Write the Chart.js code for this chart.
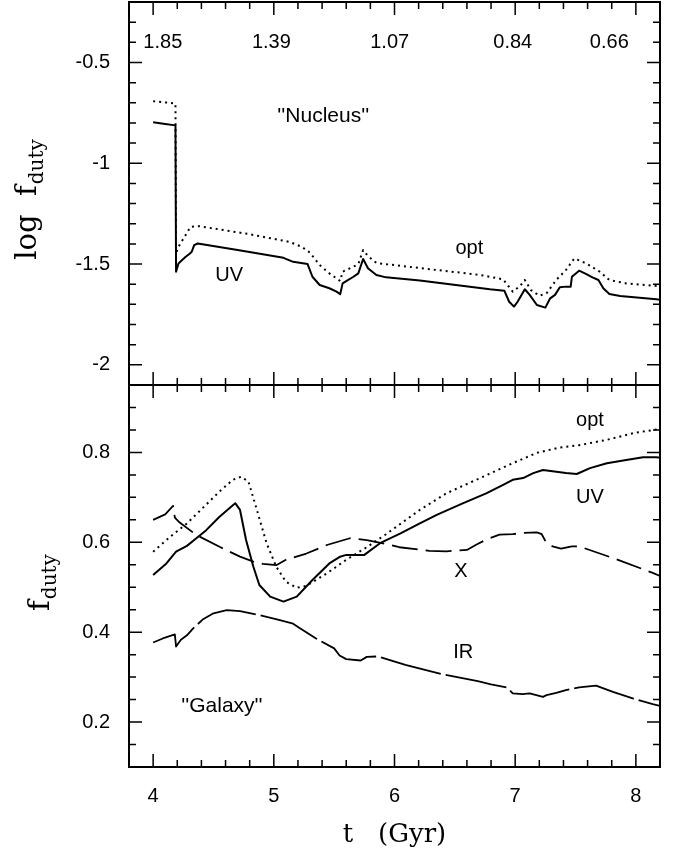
<!DOCTYPE html>
<html>
<head>
<meta charset="utf-8">
<script src="https://cdn.jsdelivr.net/npm/chart.js@4/dist/chart.umd.min.js"></script>
<style>
    html, body { margin: 0; padding: 0; background: #fff; }
    #wrap { position: relative; width: 677px; height: 849px; }
    #wrap canvas { position: absolute; left: 0; top: 0; }
</style>
</head>
<body>
<div id="wrap">
    <canvas id="galaxy-chart" width="677" height="849"></canvas>
    <canvas id="nucleus-chart" width="677" height="849"></canvas>
</div>
<script>
// duty cycle vs cosmic time — two stacked panels, "Nucleus" (log) and "Galaxy" (linear)

// shared time axis (Gyr)
const xMajor = [4, 5, 6, 7, 8];

// redshift labels along the top of the upper panel
const zLabels = ['1.85', '1.39', '1.07', '0.84', '0.66'];
const zTimes  = [4.08, 4.98, 5.96, 6.98, 7.78];

// upper panel: log f_duty
const nucYMajor = [-2, -1.5, -1, -0.5];

const tNucUV = [4.0, 4.1, 4.185, 4.19, 4.21, 4.24, 4.27, 4.30, 4.32, 4.34,
                4.37, 4.7, 5.08, 5.16, 5.28, 5.32, 5.38, 5.46, 5.52, 5.55,
                5.57, 5.60, 5.66, 5.70, 5.74, 5.78, 5.85, 5.93, 6.21, 6.79,
                6.91, 6.95, 6.99, 7.02, 7.08, 7.12, 7.18, 7.25, 7.29, 7.33,
                7.37, 7.42, 7.46, 7.47, 7.53, 7.59, 7.64, 7.69, 7.73, 7.78,
                7.87, 8.17, 8.2];
const nucUV  = [-0.796, -0.805, -0.812, -1.538, -1.497, -1.48, -1.464, -1.45, -1.439, -1.406,
                -1.398, -1.43, -1.469, -1.489, -1.50, -1.563, -1.604, -1.62, -1.637, -1.65,
                -1.596, -1.585, -1.563, -1.546, -1.475, -1.521, -1.554, -1.566, -1.582, -1.625,
                -1.632, -1.687, -1.711, -1.687, -1.625, -1.653, -1.703, -1.716, -1.67, -1.653,
                -1.615, -1.612, -1.612, -1.563, -1.533, -1.55, -1.566, -1.579, -1.62, -1.649,
                -1.658, -1.675, -1.677];

const tNucOpt = [4.0, 4.1, 4.185, 4.19, 4.21, 4.26, 4.31, 4.38, 4.8, 5.13,
                 5.23, 5.30, 5.38, 5.46, 5.55, 5.57, 5.66, 5.70, 5.74, 5.78,
                 5.85, 5.88, 6.3, 6.71, 6.90, 6.98, 7.04, 7.08, 7.13, 7.20,
                 7.26, 7.34, 7.42, 7.49, 7.59, 7.70, 7.78, 7.92, 8.17, 8.2];
const nucOpt  = [-0.692, -0.698, -0.704, -1.447, -1.414, -1.365, -1.315, -1.312, -1.352, -1.39,
                 -1.414, -1.444, -1.505, -1.546, -1.584, -1.538, -1.513, -1.50, -1.431, -1.46,
                 -1.494, -1.497, -1.526, -1.554, -1.576, -1.637, -1.609, -1.579, -1.629, -1.657,
                 -1.645, -1.579, -1.53, -1.472, -1.497, -1.538, -1.579, -1.596, -1.609, -1.61];

// lower panel: f_duty
const galYMajor = [0.2, 0.4, 0.6, 0.8];

const tGalUV = [4.0, 4.11, 4.19, 4.28, 4.33, 4.44, 4.55, 4.68, 4.72, 4.77,
                4.83, 4.88, 4.97, 5.08, 5.19, 5.32, 5.46, 5.55, 5.60, 5.75,
                5.88, 6.05, 6.21, 6.35, 6.57, 6.76, 6.90, 6.98, 7.065, 7.15,
                7.23, 7.31, 7.42, 7.51, 7.62, 7.76, 7.92, 8.06, 8.17, 8.2];
const galUV  = [0.527, 0.553, 0.579, 0.592, 0.603, 0.627, 0.657, 0.687, 0.672, 0.605,
                0.546, 0.505, 0.479, 0.468, 0.479, 0.516, 0.553, 0.568, 0.572, 0.572,
                0.598, 0.620, 0.642, 0.661, 0.687, 0.709, 0.728, 0.739, 0.743, 0.754,
                0.761, 0.758, 0.754, 0.752, 0.765, 0.776, 0.783, 0.789, 0.789, 0.788];

const tGalOpt = [4.0, 4.14, 4.28, 4.41, 4.55, 4.66, 4.73, 4.79, 4.86, 4.94,
                 5.02, 5.10, 5.19, 5.27, 5.44, 5.60, 5.77, 5.93, 6.21, 6.43,
                 6.71, 6.98, 7.18, 7.37, 7.53, 7.76, 7.98, 8.17, 8.2];
const galOpt  = [0.579, 0.612, 0.642, 0.676, 0.713, 0.739, 0.746, 0.735, 0.672, 0.598,
                 0.546, 0.512, 0.499, 0.503, 0.531, 0.561, 0.589, 0.618, 0.672, 0.709,
                 0.743, 0.776, 0.799, 0.811, 0.816, 0.828, 0.843, 0.851, 0.852];

const tGalX = [4.0, 4.10, 4.165, 4.18, 4.22, 4.36, 4.55, 4.72, 4.83, 4.91,
               5.02, 5.10, 5.27, 5.44, 5.63, 5.77, 5.93, 6.04, 6.29, 6.43,
               6.60, 6.68, 6.76, 6.87, 6.98, 7.06, 7.18, 7.22, 7.26, 7.31,
               7.38, 7.47, 7.53, 7.81, 8.14, 8.2];
const galX  = [0.650, 0.662, 0.681, 0.655, 0.644, 0.616, 0.590, 0.568, 0.557, 0.552,
               0.549, 0.561, 0.575, 0.594, 0.609, 0.605, 0.596, 0.589, 0.581, 0.580,
               0.583, 0.595, 0.606, 0.617, 0.618, 0.621, 0.622, 0.618, 0.598, 0.591,
               0.586, 0.591, 0.591, 0.565, 0.532, 0.525];

const tGalIR = [4.0, 4.08, 4.18, 4.19, 4.23, 4.28, 4.33, 4.41, 4.50, 4.61,
                4.72, 4.88, 5.05, 5.16, 5.21, 5.35, 5.50, 5.545, 5.60, 5.72,
                5.77, 5.86, 6.09, 6.40, 6.69, 6.80, 6.93, 6.98, 7.06, 7.12,
                7.23, 7.26, 7.34, 7.42, 7.53, 7.67, 7.81, 7.98, 8.14, 8.2];
const galIR  = [0.377, 0.386, 0.395, 0.368, 0.383, 0.393, 0.408, 0.428, 0.442, 0.449,
                0.447, 0.438, 0.427, 0.419, 0.410, 0.386, 0.364, 0.348, 0.340, 0.337,
                0.345, 0.346, 0.327, 0.306, 0.291, 0.284, 0.277, 0.264, 0.262, 0.264,
                0.256, 0.260, 0.265, 0.271, 0.277, 0.281, 0.267, 0.252, 0.240, 0.236];

const SANS  = '"Liberation Sans", Arial, sans-serif';
const SERIF = '"DejaVu Serif", serif';

Chart.defaults.font.family = SANS;
Chart.defaults.color = '#000';

function pts(ts, vs) {
    return ts.map((t, i) => ({ x: t, y: vs[i] }));
}

function curve(data, dash, width) {
    return {
        data,
        borderColor: '#000',
        borderWidth: width,
        borderDash: dash,
        borderJoinStyle: 'round',
        pointRadius: 0,
        tension: 0,
        fill: false
    };
}

function zeroPad(s) {
    s.paddingLeft = s.paddingRight = s.paddingTop = s.paddingBottom = 0;
}

// frame + inward ticks on all four sides
const frameTicks = {
    id: 'frameTicks',
    afterDraw(chart, args, o) {
        const { ctx, chartArea: a, scales: { x, y } } = chart;
        const isMajor = (v, list) => list.some(m => Math.abs(m - v) < 1e-6);
        ctx.save();
        ctx.strokeStyle = '#000';
        ctx.lineWidth = 1.5;
        ctx.beginPath();
        const nx = Math.round((x.max - x.min) / o.xStep);
        for (let i = 1; i < nx; i++) {
            const v = x.min + i * o.xStep;
            const len = isMajor(v, o.xMajor) ? 13 : 7;
            const px = x.getPixelForValue(v);
            ctx.moveTo(px, a.bottom); ctx.lineTo(px, a.bottom - len);
            ctx.moveTo(px, a.top);    ctx.lineTo(px, a.top + len);
        }
        const ny = Math.round((y.max - y.min) / o.yStep);
        for (let i = 1; i < ny; i++) {
            const v = y.min + i * o.yStep;
            const len = isMajor(v, o.yMajor) ? 13 : 7;
            const py = y.getPixelForValue(v);
            ctx.moveTo(a.left, py);  ctx.lineTo(a.left + len, py);
            ctx.moveTo(a.right, py); ctx.lineTo(a.right - len, py);
        }
        ctx.stroke();
        ctx.lineWidth = 2;
        ctx.strokeRect(a.left, a.top, a.right - a.left, a.bottom - a.top);
        ctx.restore();
    }
};

// in-panel text, anchored in data units
const notes = {
    id: 'notes',
    afterDatasetsDraw(chart, args, o) {
        const { ctx, scales: { x, y } } = chart;
        ctx.save();
        ctx.fillStyle = '#000';
        ctx.textAlign = 'center';
        ctx.textBaseline = 'middle';
        (o.items || []).forEach(n => {
            ctx.font = `${n.size || 20}px ${SANS}`;
            ctx.fillText(n.text, x.getPixelForValue(n.t), y.getPixelForValue(n.v));
        });
        ctx.restore();
    }
};

// rotated y title with a subscript (f_duty)
const yTitle = {
    id: 'yTitle',
    afterDraw(chart, args, o) {
        const { ctx } = chart;
        ctx.save();
        ctx.fillStyle = '#000';
        ctx.translate(o.x, o.y);
        ctx.rotate(-Math.PI / 2);
        ctx.textAlign = 'left';
        ctx.textBaseline = 'alphabetic';
        ctx.font = `29px ${SERIF}`;
        const wMain = ctx.measureText(o.main).width;
        ctx.font = `20px ${SERIF}`;
        const wSub = ctx.measureText(o.sub).width;
        const x0 = -(wMain + wSub) / 2;
        ctx.font = `29px ${SERIF}`;
        ctx.fillText(o.main, x0, 0);
        ctx.font = `20px ${SERIF}`;
        ctx.fillText(o.sub, x0 + wMain + 1, 7);
        ctx.restore();
    }
};

function xScale(showLabels) {
    return {
        type: 'linear', min: 3.8, max: 8.2,
        display: showLabels,
        afterBuildTicks: s => { s.ticks = xMajor.map(v => ({ value: v })); },
        afterFit: s => { s.height = showLabels ? 82 : 0; zeroPad(s); },
        grid: { display: false, drawTicks: false },
        border: { display: false },
        ticks: { color: '#000', padding: 17, maxRotation: 0, font: { size: 20 }, callback: v => String(v) },
        title: {
            display: showLabels, text: 't   (Gyr)', color: '#000',
            font: { family: SERIF, size: 26 }, padding: { top: 0, bottom: -2 }
        }
    };
}

function yScale(min, max, major) {
    return {
        type: 'linear', min, max, position: 'left',
        afterBuildTicks: s => { s.ticks = major.map(v => ({ value: v })); },
        afterFit: s => { s.width = 129; zeroPad(s); },
        grid: { display: false, drawTicks: false },
        border: { display: false },
        ticks: { color: '#000', padding: 19, font: { size: 20 }, callback: v => String(v) }
    };
}

function baseOptions(padding, scales, plugins) {
    return {
        responsive: false,
        animation: false,
        devicePixelRatio: 1,
        events: [],
        layout: { padding },
        scales,
        plugins: Object.assign({ legend: { display: false }, tooltip: { enabled: false } }, plugins)
    };
}

// upper panel
new Chart(document.getElementById('nucleus-chart'), {
    type: 'line',
    data: {
        datasets: [
            curve(pts(tNucUV, nucUV), [], 2),
            curve(pts(tNucOpt, nucOpt), [2, 4], 2)
        ]
    },
    options: baseOptions(
        { left: 0, right: 17, top: 2, bottom: 464 },
        { x: xScale(false), y: yScale(-2.1, -0.2, nucYMajor) },
        {
            frameTicks: { xStep: 0.2, xMajor, yStep: 0.1, yMajor: nucYMajor },
            notes: {
                items: zLabels.map((z, i) => ({ text: z, t: zTimes[i], v: -0.40 })).concat([
                    { text: "''Nucleus''", t: 5.41, v: -0.767, size: 21 },
                    { text: 'UV', t: 4.63, v: -1.559 },
                    { text: 'opt', t: 6.62, v: -1.421 }
                ])
            },
            yTitle: { main: 'log  f', sub: 'duty', x: 36, y: 200 }
        }
    ),
    plugins: [frameTicks, notes, yTitle]
});

// lower panel
new Chart(document.getElementById('galaxy-chart'), {
    type: 'line',
    data: {
        datasets: [
            curve(pts(tGalUV, galUV), [], 2),
            curve(pts(tGalOpt, galOpt), [2, 4], 2),
            curve(pts(tGalX, galX), [26, 8], 1.8),
            curve(pts(tGalIR, galIR), [62, 5], 1.8)
        ]
    },
    options: baseOptions(
        { left: 0, right: 17, top: 385, bottom: 0 },
        { x: xScale(true), y: yScale(0.1, 0.95, galYMajor) },
        {
            frameTicks: { xStep: 0.2, xMajor, yStep: 0.05, yMajor: galYMajor },
            notes: {
                items: [
                    { text: 'opt', t: 7.62, v: 0.872 },
                    { text: 'UV', t: 7.62, v: 0.699 },
                    { text: 'X', t: 6.55, v: 0.534 },
                    { text: 'IR', t: 6.57, v: 0.354 },
                    { text: "''Galaxy''", t: 4.57, v: 0.236, size: 21 }
                ]
            },
            yTitle: { main: 'f', sub: 'duty', x: 49, y: 583 }
        }
    ),
    plugins: [frameTicks, notes, yTitle]
});
</script>
</body>
</html>
